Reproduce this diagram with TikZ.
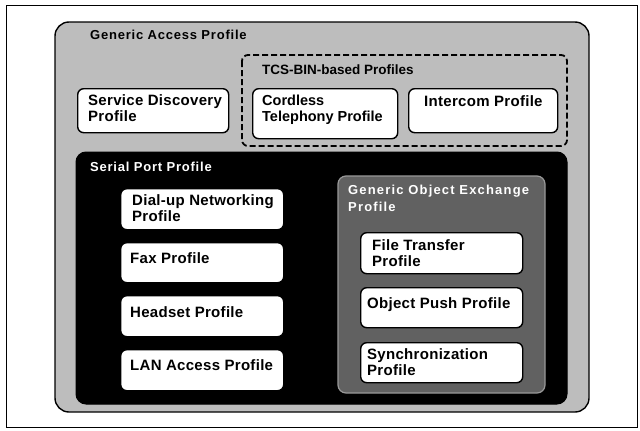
\documentclass[tikz,border=0pt]{standalone}
\usepackage{fontspec}
\setmainfont{Liberation Sans}
\begin{document}
\begin{tikzpicture}[x=1pt,y=-1pt,
  profbox/.style={draw=black,line width=1.4pt,fill=white,rounded corners=6pt,anchor=north west,inner sep=0pt},
  proftext/.style={anchor=north west,inner sep=0pt,align=left,font=\fontsize{15}{16}\selectfont\bfseries\addfontfeatures{LetterSpace=2},text=black},
  grouptext/.style={anchor=north west,inner sep=0pt,align=left,font=\fontsize{13}{17}\selectfont\bfseries\addfontfeatures{LetterSpace=6}},
]
\useasboundingbox (0,0) rectangle (640,431);
% outer frame
\draw[line width=1pt] (6,5) rectangle (637,427);
% Generic Access Profile
\draw[line width=1.4pt,fill=gray!52,rounded corners=14pt] (55,22) rectangle (589,412);
\node[grouptext,text=black] (gaplbl) at (90,30) {Generic Access Profile};
% TCS-BIN
\draw[line width=1.8pt,dash pattern=on 6pt off 3pt,rounded corners=6pt] (242,55) rectangle (567,146);
\node[grouptext,font=\fontsize{13.5}{17}\selectfont\bfseries,text=black] (tcslbl) at (262,65) {TCS-BIN-based Profiles};
% top boxes
\node[profbox,minimum width=151pt,minimum height=44pt] (sdp) at (77,88) {};
\node[proftext] (sdpt) at ([shift={(11pt,-6.5pt)}]sdp.north west) {Service Discovery\\Profile};
\node[profbox,minimum width=145pt,minimum height=50pt] (ctp) at (252,88) {};
\node[proftext,font=\fontsize{14.5}{16}\selectfont\bfseries] (ctpt) at ([shift={(10pt,-6.5pt)}]ctp.north west) {Cordless\\Telephony Profile};
\node[profbox,minimum width=149pt,minimum height=44pt] (icp) at (408,88) {};
\node[proftext] (icpt) at ([shift={(16pt,-7.5pt)}]icp.north west) {Intercom Profile};
% Serial Port
\draw[line width=1pt,fill=black,rounded corners=10pt] (76,152) rectangle (567,404);
\node[grouptext,text=white] (spplbl) at (90,162) {Serial Port Profile};
\node[profbox,minimum width=163pt,minimum height=41pt] (dun) at (120,188) {};
\node[proftext] (dunt) at ([shift={(12pt,-6.5pt)}]dun.north west) {Dial-up Networking\\Profile};
\node[profbox,minimum width=163pt,minimum height=40pt] (fax) at (120,242) {};
\node[proftext] (faxt) at ([shift={(10pt,-10pt)}]fax.north west) {Fax Profile};
\node[profbox,minimum width=163pt,minimum height=41pt] (hsp) at (120,295) {};
\node[proftext] (hspt) at ([shift={(10pt,-11.5pt)}]hsp.north west) {Headset Profile};
\node[profbox,minimum width=163pt,minimum height=41pt] (lan) at (120,349) {};
\node[proftext] (lant) at ([shift={(10pt,-10.5pt)}]lan.north west) {LAN Access Profile};
% GOEP
\draw[line width=1.2pt,draw=gray!80,fill=black!62,rounded corners=8pt] (338,176) rectangle (545,393);
\node[grouptext,text=white,font=\fontsize{13}{17}\selectfont\bfseries\addfontfeatures{LetterSpace=9}] (goeplbl) at (348,185) {Generic Object Exchange\\Profile};
\node[profbox,minimum width=162pt,minimum height=41pt] (ftp) at (360,232) {};
\node[proftext] (ftpt) at ([shift={(12pt,-7.5pt)}]ftp.north west) {File Transfer\\Profile};
\node[profbox,minimum width=162pt,minimum height=40pt] (opp) at (360,287) {};
\node[proftext] (oppt) at ([shift={(7pt,-10.5pt)}]opp.north west) {Object Push Profile};
\node[profbox,minimum width=162pt,minimum height=40pt] (syn) at (360,342) {};
\node[proftext] (synt) at ([shift={(7pt,-6.5pt)}]syn.north west) {Synchronization\\Profile};
\end{tikzpicture}
\end{document}
